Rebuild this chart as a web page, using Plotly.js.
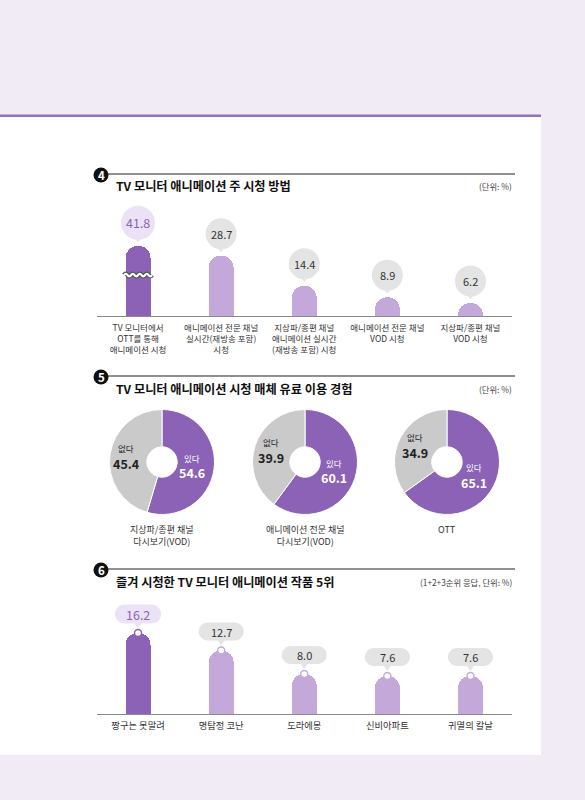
<!DOCTYPE html>
<html>
<head>
<meta charset="utf-8">
<script src="https://cdn.plot.ly/plotly-3.0.1.min.js"></script>
<style>html,body{margin:0;padding:0;background:#f1ebf6;}#chart{width:585px;height:800px;}</style>
</head>
<body>
<div id="chart"></div>
<script>
// ---------- DATA ----------
const viewTitle = 'TV 모니터 애니메이션 주 시청 방법';
const viewUnit = '(단위: %)';
const viewCategories = [
  'TV 모니터에서<br>OTT를 통해<br>애니메이션 시청',
  '애니메이션 전문 채널<br>실시간(재방송 포함)<br>시청',
  '지상파/종편 채널<br>애니메이션 실시간<br>(재방송 포함) 시청',
  '애니메이션 전문 채널<br>VOD 시청',
  '지상파/종편 채널<br>VOD 시청'
];
const viewValues = [41.8, 28.7, 14.4, 8.9, 6.2];

const payTitle = 'TV 모니터 애니메이션 시청 매체 유료 이용 경험';
const payUnit = '(단위: %)';
const payMedia = ['지상파/종편 채널<br>다시보기(VOD)', '애니메이션 전문 채널<br>다시보기(VOD)', 'OTT'];
const payLabels = ['있다', '없다'];
const payYes = [54.6, 60.1, 65.1];
const payNo = [45.4, 39.9, 34.9];

const topTitle = '즐겨 시청한 TV 모니터 애니메이션 작품 5위';
const topUnit = '(1+2+3순위 응답, 단위: %)';
const topTitles = ['짱구는 못말려', '명탐정 코난', '도라에몽', '신비아파트', '귀멸의 칼날'];
const topValues = [16.2, 12.7, 8.0, 7.6, 7.6];

// ---------- STYLE / LAYOUT HELPERS ----------
const W = 585, H = 800;
const fx = px => px / W;
const fy = py => 1 - py / H;
const DARK = '#8b62b6', LIGHT = '#c4a8da', GRAYPIE = '#cacaca';
const BUB_GRAY = '#e4e4e4', BUB_LAV = '#ebe2f5';
const FONT = 'Noto Sans CJK KR, Noto Sans, sans-serif';
const breakCap = 33.4; // first bar is drawn broken (axis break) as in the source

const idx = viewValues.map((_, i) => i);
const viewDisp = viewValues.map(v => Math.min(v, breakCap));
const barColors = idx.map(i => i === 0 ? DARK : LIGHT);

const traces = [];
traces.push({
  type: 'bar', x: idx, y: viewDisp, xaxis: 'x', yaxis: 'y', width: 0.3,
  marker: {color: barColors, cornerradius: '50%'}, hoverinfo: 'skip', showlegend: false
});
traces.push({
  type: 'bar', x: idx, y: topValues, xaxis: 'x2', yaxis: 'y2', width: 0.3,
  marker: {color: barColors, cornerradius: '50%'}, hoverinfo: 'skip', showlegend: false
});
traces.push({
  type: 'scatter', mode: 'markers', x: idx, y: topValues, xaxis: 'x2', yaxis: 'y2',
  marker: {size: 7, color: '#ffffff', line: {color: barColors, width: 1.4}},
  hoverinfo: 'skip', showlegend: false, cliponaxis: false
});

const shapes = [];
const annotations = [];

const pieCx = [162, 305, 447], pieCy = 462, pieR = 52.5;
const sliceTextR = [30, 36];
const sliceTextColor = ['#ffffff', '#222222'];
payMedia.forEach((m, i) => {
  const vals = [payYes[i], payNo[i]];
  traces.push({
    type: 'pie', values: vals, labels: payLabels,
    domain: {x: [fx(pieCx[i] - pieR), fx(pieCx[i] + pieR)], y: [fy(pieCy + pieR), fy(pieCy - pieR)]},
    hole: 0.29, sort: false, direction: 'clockwise', rotation: 0,
    marker: {colors: [DARK, GRAYPIE], line: {color: '#ffffff', width: 1}},
    textinfo: 'none', hoverinfo: 'skip', showlegend: false
  });
  // slice labels placed at each slice's mid-angle
  const total = vals[0] + vals[1];
  let cum = 0;
  vals.forEach((v, j) => {
    const mid = (cum + v / 2) / total * 2 * Math.PI;
    cum += v;
    const px = pieCx[i] + sliceTextR[j] * Math.sin(mid);
    const py = pieCy - sliceTextR[j] * Math.cos(mid);
    annotations.push({xref: 'paper', yref: 'paper', x: fx(px), y: fy(py - 8.5), text: payLabels[j], showarrow: false, borderpad: 0,
      xanchor: 'center', yanchor: 'middle', font: {family: FONT, size: 8.5, color: sliceTextColor[j]}});
    annotations.push({xref: 'paper', yref: 'paper', x: fx(px), y: fy(py + 6.5), text: v.toFixed(1), showarrow: false, borderpad: 0,
      xanchor: 'center', yanchor: 'middle', font: {family: FONT, size: 12.5, color: sliceTextColor[j], weight: 700}});
  });
});

// page background card
shapes.push({type: 'rect', xref: 'paper', yref: 'paper', x0: 0, x1: fx(541), y0: fy(755), y1: fy(116), fillcolor: '#ffffff', line: {width: 0}, layer: 'below'});
shapes.push({type: 'rect', xref: 'paper', yref: 'paper', x0: 0, x1: fx(541), y0: fy(117), y1: fy(114.5), fillcolor: '#9274bc', line: {width: 0}, layer: 'below'});

// section headers
const sections = [
  {n: '4', title: viewTitle, unit: viewUnit, lineY: 174, titleY: 186},
  {n: '5', title: payTitle, unit: payUnit, lineY: 376, titleY: 389},
  {n: '6', title: topTitle, unit: topUnit, lineY: 569, titleY: 582}
];
sections.forEach(s => {
  shapes.push({type: 'line', xref: 'paper', yref: 'paper', x0: fx(100), x1: fx(515), y0: fy(s.lineY), y1: fy(s.lineY), line: {color: '#222', width: 1.2}});
  shapes.push({type: 'circle', xref: 'paper', yref: 'paper', x0: fx(93.5), x1: fx(108.5), y0: fy(s.lineY + 8.5), y1: fy(s.lineY - 6.5), fillcolor: '#111', line: {width: 0}});
  annotations.push({xref: 'paper', yref: 'paper', x: fx(101), y: fy(s.lineY + 1), text: s.n, showarrow: false, xanchor: 'center', yanchor: 'middle', font: {family: FONT, size: 11.5, color: '#fff', weight: 700}});
  annotations.push({xref: 'paper', yref: 'paper', x: fx(114), y: fy(s.titleY), text: s.title, showarrow: false, xanchor: 'left', yanchor: 'middle', font: {family: FONT, size: 12.2, color: '#111', weight: 700}});
  annotations.push({xref: 'paper', yref: 'paper', x: fx(514), y: fy(s.titleY), text: s.unit, showarrow: false, xanchor: 'right', yanchor: 'middle', font: {family: FONT, size: 8.3, color: '#444'}});
});

// chart 4 bubbles
const cy4 = 22;
idx.forEach(i => {
  const fill = i === 0 ? BUB_LAV : BUB_GRAY;
  const r4 = i === 0 ? 17 : 15.5;
  const c = i === 0 ? cy4 + 1 : cy4;
  shapes.push({type: 'circle', xref: 'x', yref: 'y', xsizemode: 'pixel', ysizemode: 'pixel', xanchor: i, yanchor: viewDisp[i],
    x0: -r4, x1: r4, y0: c - r4, y1: c + r4, fillcolor: fill, line: {width: 0}});
  shapes.push({type: 'path', xref: 'x', yref: 'y', xsizemode: 'pixel', ysizemode: 'pixel', xanchor: i, yanchor: viewDisp[i],
    path: `M -5,${c - r4 + 4} L 5,${c - r4 + 4} L 0,${c - r4 - 3} Z`, fillcolor: fill, line: {width: 0}});
  annotations.push({xref: 'x', yref: 'y', x: i, y: viewDisp[i], yshift: c, text: viewValues[i].toFixed(1), showarrow: false,
    xanchor: 'center', yanchor: 'middle', font: {family: FONT, size: i === 0 ? 12.5 : 11, color: i === 0 ? '#8b62b6' : '#333'}});
});
// break mark on first bar
const wave = 'M -14,0 Q -12.25,2.6 -10.5,0 T -7,0 T -3.5,0 T 0,0 T 3.5,0 T 7,0 T 10.5,0 T 14,0';
shapes.push({type: 'path', xref: 'x', yref: 'y', xsizemode: 'pixel', ysizemode: 'pixel', xanchor: 0, yanchor: 19.5, path: wave, line: {color: '#555', width: 4.5}});
shapes.push({type: 'path', xref: 'x', yref: 'y', xsizemode: 'pixel', ysizemode: 'pixel', xanchor: 0, yanchor: 19.5, path: wave, line: {color: '#fff', width: 2.2}});

// chart 6 pills
const cy6 = 19;
idx.forEach(i => {
  const fill = i === 0 ? BUB_LAV : BUB_GRAY;
  const w = i === 0 ? 23 : 22.5, r = i === 0 ? 9.5 : 9, k = 0.5523 * r;
  const p = `M ${-w + r},${cy6 + r} L ${w - r},${cy6 + r} C ${w - r + k},${cy6 + r} ${w},${cy6 + k} ${w},${cy6} C ${w},${cy6 - k} ${w - r + k},${cy6 - r} ${w - r},${cy6 - r} L ${-w + r},${cy6 - r} C ${-w + r - k},${cy6 - r} ${-w},${cy6 - k} ${-w},${cy6} C ${-w},${cy6 + k} ${-w + r - k},${cy6 + r} ${-w + r},${cy6 + r} Z`;
  shapes.push({type: 'path', xref: 'x2', yref: 'y2', xsizemode: 'pixel', ysizemode: 'pixel', xanchor: i, yanchor: topValues[i], path: p, fillcolor: fill, line: {width: 0}});
  shapes.push({type: 'path', xref: 'x2', yref: 'y2', xsizemode: 'pixel', ysizemode: 'pixel', xanchor: i, yanchor: topValues[i],
    path: `M -4,${cy6 - r + 1} L 4,${cy6 - r + 1} L 0,${cy6 - r - 5} Z`, fillcolor: fill, line: {width: 0}});
  annotations.push({xref: 'x2', yref: 'y2', x: i, y: topValues[i], yshift: cy6, text: topValues[i].toFixed(1), showarrow: false,
    xanchor: 'center', yanchor: 'middle', font: {family: FONT, size: i === 0 ? 12.5 : 11, color: i === 0 ? '#8b62b6' : '#333'}});
});

// pie captions
payMedia.forEach((m, i) => {
  annotations.push({xref: 'paper', yref: 'paper', x: fx(pieCx[i]), y: fy(521), text: m, showarrow: false, xanchor: 'center', yanchor: 'top',
    font: {family: FONT, size: 9, color: '#333'}, align: 'center'});
});

const xBase = {range: [-0.5, 4.5], tickvals: idx, showgrid: false, zeroline: false, showline: true, linecolor: '#8a8a8a', linewidth: 1,
  ticks: '', fixedrange: true, domain: [fx(96.5), fx(512)]};

const layout = {
  width: W, height: H, margin: {l: 0, r: 0, t: 0, b: 0},
  paper_bgcolor: '#f1ebf6', plot_bgcolor: 'rgba(0,0,0,0)',
  font: {family: FONT, color: '#333'},
  showlegend: false, bargap: 0,
  xaxis: Object.assign({}, xBase, {anchor: 'y', ticktext: viewCategories, ticklabelstandoff: 4,
    tickfont: {family: FONT, size: 8.5, color: '#333'}}),
  yaxis: {domain: [fy(316), fy(316 - 60 * 2.1)], range: [0, 60], visible: false, fixedrange: true},
  xaxis2: Object.assign({}, xBase, {anchor: 'y2', ticktext: topTitles, ticklabelstandoff: 3,
    tickfont: {family: FONT, size: 9.3, color: '#333'}}),
  yaxis2: {domain: [fy(714), fy(714 - 24 * 5)], range: [0, 24], visible: false, fixedrange: true, anchor: 'x2'},
  shapes: shapes, annotations: annotations
};

Plotly.newPlot('chart', traces, layout, {displayModeBar: false, staticPlot: true});
</script>
</body>
</html>
